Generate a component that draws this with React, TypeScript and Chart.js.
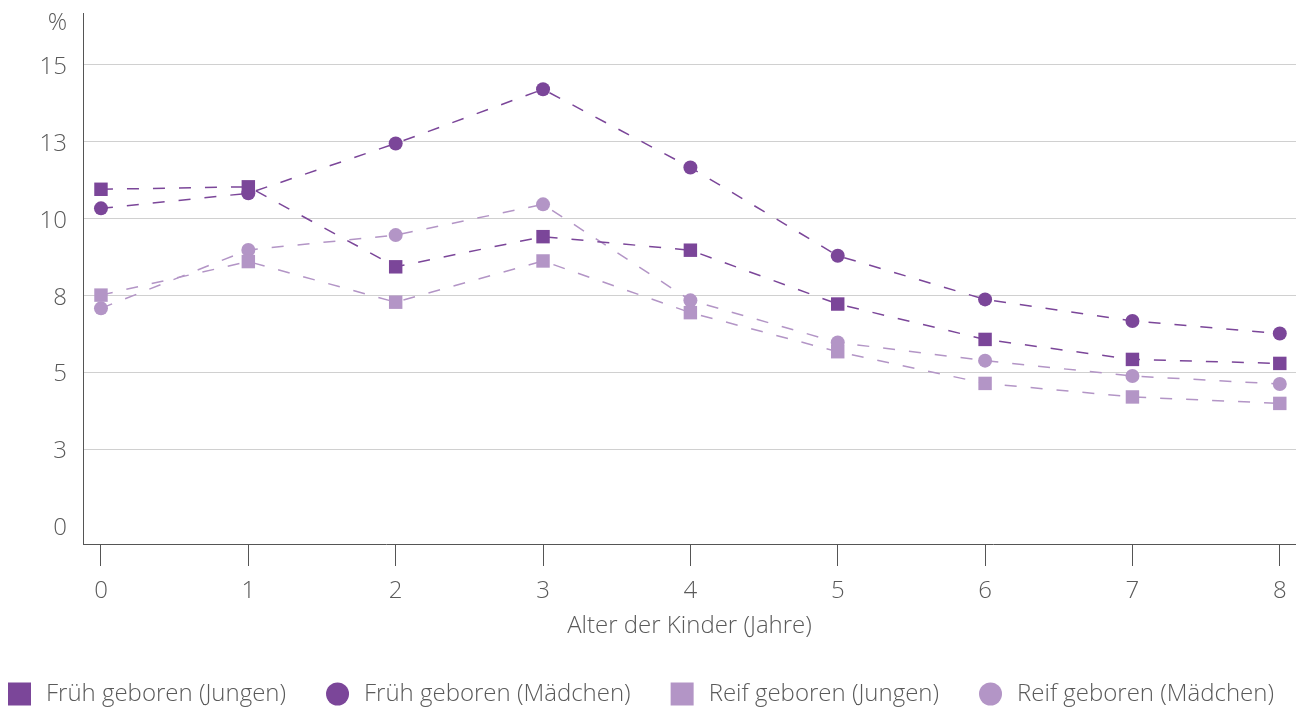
import React, { useEffect, useRef } from "react";
import { Chart, registerables } from "chart.js";

Chart.register(...registerables);

const ages = [0, 1, 2, 3, 4, 5, 6, 7, 8];
const fruehJungen = [10.96, 11.04, 8.44, 9.42, 8.98, 7.23, 6.08, 5.43, 5.3];
const fruehMaedchen = [10.34, 10.83, 12.45, 14.21, 11.67, 8.8, 7.38, 6.68, 6.27];
const reifJungen = [7.52, 8.61, 7.29, 8.63, 6.95, 5.68, 4.65, 4.21, 4.0];
const reifMaedchen = [7.09, 8.99, 9.47, 10.47, 7.35, 5.98, 5.39, 4.89, 4.63];
const yTicks = [0, 2.5, 5, 7.5, 10, 12.5, 15];
const seriesLabels = [
  "Früh geboren (Jungen)",
  "Früh geboren (Mädchen)",
  "Reif geboren (Jungen)",
  "Reif geboren (Mädchen)",
];
const xTitle = "Alter der Kinder (Jahre)";
const yUnit = "%";

const DARK = "#7b4699";
const LIGHT = "#b395c6";
const TEXT = "#5a5a5a";
const FONT = "'Open Sans', 'DejaVu Sans', sans-serif";
const FSIZE = 24;

export default function App() {
  const ref = useRef<HTMLCanvasElement | null>(null);

  useEffect(() => {
    if (!ref.current) return;
    const toPts = (arr: number[]) => arr.map((y, i) => ({ x: ages[i], y }));
    const styles: Array<{ data: number[]; color: string; shape: "rect" | "circle" }> = [
      { data: fruehJungen, color: DARK, shape: "rect" },
      { data: fruehMaedchen, color: DARK, shape: "circle" },
      { data: reifJungen, color: LIGHT, shape: "rect" },
      { data: reifMaedchen, color: LIGHT, shape: "circle" },
    ];

    const unitPlugin = {
      id: "unitLabel",
      afterDraw(chart: any) {
        const ctx = chart.ctx;
        ctx.save();
        ctx.font = `300 ${FSIZE}px ${FONT}`;
        ctx.fillStyle = TEXT;
        ctx.textAlign = "right";
        ctx.textBaseline = "middle";
        ctx.fillText(yUnit, chart.chartArea.left - 16, 23);
        ctx.restore();
      },
    };

    const legendPlugin = {
      id: "customLegend",
      afterDraw(chart: any) {
        const ctx = chart.ctx;
        const y = 694;
        const box = 23;
        const gap = 40;
        ctx.save();
        ctx.font = `300 ${FSIZE}px ${FONT}`;
        ctx.textAlign = "left";
        ctx.textBaseline = "middle";
        let x = 8;
        chart.data.datasets.forEach((ds: any) => {
          ctx.fillStyle = ds.backgroundColor;
          if (ds.pointStyle === "rect") {
            ctx.fillRect(x, y - box / 2, box, box);
          } else {
            ctx.beginPath();
            ctx.arc(x + box / 2, y, box / 2, 0, Math.PI * 2);
            ctx.fill();
          }
          ctx.fillStyle = TEXT;
          ctx.fillText(ds.label, x + 38, y);
          x += 38 + ctx.measureText(ds.label).width + gap;
        });
        ctx.restore();
      },
    };

    const chart = new Chart(ref.current, {
      type: "line",
      data: {
        datasets: styles.map((s, i) => ({
          label: seriesLabels[i],
          data: toPts(s.data),
          borderColor: s.color,
          backgroundColor: s.color,
          borderWidth: 1.5,
          borderDash: [12, 14],
          pointStyle: s.shape,
          pointRadius: s.shape === "rect" ? 9.5 : 7,
          pointHoverRadius: s.shape === "rect" ? 9.5 : 7,
          pointBorderWidth: 0,
          pointBackgroundColor: s.color,
          fill: false,
          tension: 0,
        })),
      },
      options: {
        animation: false,
        responsive: true,
        maintainAspectRatio: false,
        layout: { autoPadding: false, padding: { top: 13, right: 0, left: 0, bottom: 67 } },
        plugins: {
          tooltip: { enabled: false },
          legend: { display: false },
        },
        scales: {
          x: {
            type: "linear",
            min: -0.122,
            max: 8.11,
            afterFit: (scale: any) => {
              scale.height = 98;
              scale.paddingLeft = 0;
              scale.paddingRight = 0;
            },
            afterBuildTicks: (scale: any) => {
              scale.ticks = ages.map((v) => ({ value: v }));
            },
            grid: {
              drawOnChartArea: false,
              drawTicks: true,
              tickLength: 22,
              color: "#555",
              lineWidth: 1,
            },
            border: { display: true, color: "#555", width: 1 },
            ticks: {
              color: TEXT,
              padding: 11,
              maxRotation: 0,
              font: { family: FONT, size: FSIZE, weight: "300" as any },
              callback: (v: any) => String(v),
            },
            title: {
              display: true,
              text: xTitle,
              color: TEXT,
              padding: { top: 0, bottom: 1 },
              font: { family: FONT, size: FSIZE, weight: "300" as any },
            },
          },
          y: {
            type: "linear",
            min: -0.57,
            max: 16.69,
            afterFit: (scale: any) => {
              scale.width = 83;
              scale.paddingTop = 0;
              scale.paddingBottom = 0;
            },
            afterBuildTicks: (scale: any) => {
              scale.ticks = yTicks.map((v) => ({ value: v }));
            },
            grid: {
              drawTicks: false,
              color: (c: any) => (c.tick && c.tick.value === 0 ? "rgba(0,0,0,0)" : "#d0d0d0"),
              lineWidth: 1,
            },
            border: { display: true, color: "#555", width: 1 },
            ticks: {
              color: TEXT,
              padding: 16,
              labelOffset: 2,
              font: { family: FONT, size: FSIZE, weight: "300" as any },
              callback: (v: any) => String(Math.round(Number(v))),
            },
          },
        },
      },
      plugins: [unitPlugin, legendPlugin],
    });
    return () => chart.destroy();
  }, []);

  return (
    <div style={{ position: "fixed", left: 0, top: 0, width: 1296, height: 709 }}>
      <canvas ref={ref} />
    </div>
  );
}
